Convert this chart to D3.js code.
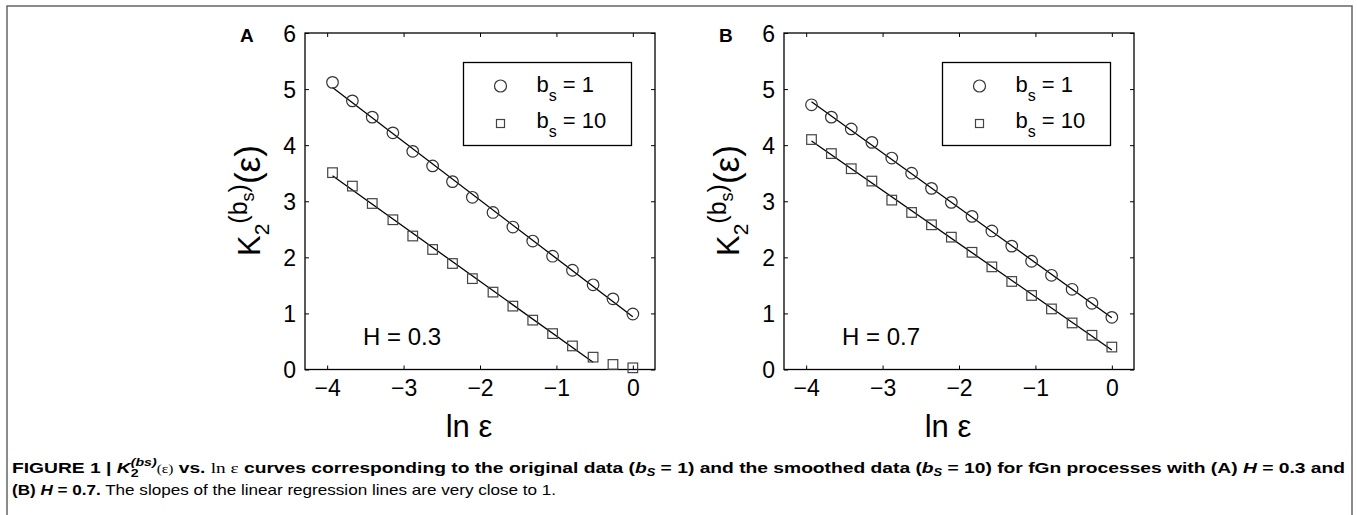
<html>
<head>
<meta charset="utf-8">
<script src="https://d3js.org/d3.v7.min.js"></script>
<style>
  body { margin: 0; background: #fff; }
  text { font-family: "Liberation Sans", Arial, Helvetica, sans-serif; fill: #000; }
</style>
</head>
<body>
<svg id="fig"></svg>
<script>
var Width = 1357, Height = 515;

// ln(eps) positions shared by every series
var lnEps = [-3.93, -3.67, -3.41, -3.14, -2.88, -2.62, -2.36, -2.10, -1.83, -1.57, -1.31, -1.05, -0.79, -0.52, -0.26, 0.0];
// K2 values, panel A (H = 0.3)
var kA_bs1  = [5.12, 4.79, 4.50, 4.22, 3.89, 3.63, 3.35, 3.07, 2.80, 2.54, 2.29, 2.02, 1.77, 1.51, 1.26, 0.99];
var kA_bs10 = [3.51, 3.27, 2.96, 2.67, 2.38, 2.14, 1.89, 1.62, 1.38, 1.13, 0.88, 0.64, 0.42, 0.22, 0.09, 0.03];
// K2 values, panel B (H = 0.7)
var kB_bs1  = [4.72, 4.50, 4.29, 4.05, 3.77, 3.50, 3.23, 2.98, 2.73, 2.47, 2.20, 1.93, 1.68, 1.43, 1.18, 0.93];
var kB_bs10 = [4.10, 3.85, 3.58, 3.36, 3.02, 2.80, 2.58, 2.36, 2.09, 1.83, 1.57, 1.32, 1.08, 0.83, 0.61, 0.40];

var xTicks = [-4, -3, -2, -1, 0];
var yTicks = [0, 1, 2, 3, 4, 5, 6];
var legendValues = ["1", "10"];
var hLabels = ["H = 0.3", "H = 0.7"];
var panelIds = ["A", "B"];
// how many points (from the left) go into each regression line
var fitCountA = [16, 14];
var fitCountB = [16, 16];

var Top = 33, PlotW = 350, PlotH = 336.5;
var panels = [
    { id: panelIds[0], left: 305, h: hLabels[0], series: [kA_bs1, kA_bs10], fit: fitCountA },
    { id: panelIds[1], left: 784, h: hLabels[1], series: [kB_bs1, kB_bs10], fit: fitCountB }
];

var svg = d3.select("#fig").attr("width", Width).attr("height", Height);

// outer figure frame (bottom edge is cut off)
svg.append("path")
    .attr("d", "M7," + Height + "V6H1352V" + Height)
    .attr("fill", "none").attr("stroke", "#666").attr("stroke-width", 1.5);

function linfit(xs, ys) {
    var n = xs.length;
    var mx = d3.mean(xs), my = d3.mean(ys);
    var sxy = 0, sxx = 0;
    for (var i = 0; i < n; i++) {
        sxy += (xs[i] - mx) * (ys[i] - my);
        sxx += (xs[i] - mx) * (xs[i] - mx);
    }
    var slope = sxy / sxx;
    return { slope: slope, icpt: my - slope * mx };
}

// lays out text runs one after another inside g
function runs(g, items) {
    var x = 0;
    items.forEach(function(it) {
        var t = g.append("text").attr("x", x).attr("y", it.dy || 0)
            .style("font-size", it.size + "px").text(it.t);
        x += t.node().getComputedTextLength();
    });
    return x;
}

var fmt = d3.format("d");

panels.forEach(function(p) {
    var x = d3.scaleLinear().domain([-4.29, 0.29]).range([p.left, p.left + PlotW]);
    var y = d3.scaleLinear().domain([0, 6]).range([Top + PlotH, Top]);

    var g = svg.append("g");

    // ticks on all four sides, pointing inwards
    var bottom = g.append("g").attr("transform", "translate(0," + (Top + PlotH) + ")")
        .call(d3.axisBottom(x).tickValues(xTicks).tickFormat(fmt).tickSizeInner(-4).tickSizeOuter(0).tickPadding(9));
    var left = g.append("g").attr("transform", "translate(" + p.left + ",0)")
        .call(d3.axisLeft(y).tickValues(yTicks).tickFormat(fmt).tickSizeInner(-4).tickSizeOuter(0).tickPadding(9));
    g.append("g").attr("transform", "translate(0," + Top + ")")
        .call(d3.axisTop(x).tickValues(xTicks).tickSizeInner(-4).tickSizeOuter(0).tickFormat(""));
    g.append("g").attr("transform", "translate(" + (p.left + PlotW) + ",0)")
        .call(d3.axisRight(y).tickValues(yTicks).tickSizeInner(-4).tickSizeOuter(0).tickFormat(""));
    g.selectAll(".domain").remove();
    g.selectAll(".tick line").attr("stroke", "#000").attr("stroke-width", 1);
    g.selectAll(".tick text").attr("font-family", null).style("font-size", "23px").attr("fill", "#000");
    bottom.selectAll(".tick text").attr("dy", "0.75em");
    left.selectAll(".tick text").attr("dy", "0.36em");

    g.append("rect").attr("x", p.left).attr("y", Top).attr("width", PlotW).attr("height", PlotH)
        .attr("fill", "none").attr("stroke", "#000").attr("stroke-width", 1.3);

    // regression lines
    p.series.forEach(function(ys, si) {
        var n = p.fit[si];
        var f = linfit(lnEps.slice(0, n), ys.slice(0, n));
        var x0 = lnEps[0], x1 = lnEps[n - 1];
        g.append("line")
            .attr("x1", x(x0)).attr("y1", y(f.icpt + f.slope * x0))
            .attr("x2", x(x1)).attr("y2", y(f.icpt + f.slope * x1))
            .attr("stroke", "#000").attr("stroke-width", 1.3);
    });

    // markers
    g.selectAll(".c").data(p.series[0]).enter().append("circle")
        .attr("cx", function(d, i) { return x(lnEps[i]); })
        .attr("cy", function(d) { return y(d); })
        .attr("r", 5.8).attr("fill", "none").attr("stroke", "#333").attr("stroke-width", 1.2);
    g.selectAll(".s").data(p.series[1]).enter().append("rect")
        .attr("x", function(d, i) { return x(lnEps[i]) - 4.8; })
        .attr("y", function(d) { return y(d) - 4.8; })
        .attr("width", 9.6).attr("height", 9.6)
        .attr("fill", "none").attr("stroke", "#444").attr("stroke-width", 1.2);

    // legend
    var lg = g.append("g").attr("transform", "translate(" + (p.left + 158.5) + "," + (Top + 29.5) + ")");
    lg.append("rect").attr("width", 168).attr("height", 83)
        .attr("fill", "#fff").attr("stroke", "#000").attr("stroke-width", 1.3);
    lg.append("circle").attr("cx", 37).attr("cy", 23.5).attr("r", 6)
        .attr("fill", "none").attr("stroke", "#333").attr("stroke-width", 1.2);
    lg.append("rect").attr("x", 33).attr("y", 57).attr("width", 8).attr("height", 8)
        .attr("fill", "none").attr("stroke", "#444").attr("stroke-width", 1.2);
    legendValues.forEach(function(v, i) {
        var t = lg.append("text").attr("x", 73).attr("y", 29 + i * 36).style("font-size", "22px");
        t.append("tspan").text("b");
        t.append("tspan").attr("dy", 9).style("font-size", "16px").text("s");
        t.append("tspan").attr("dy", -9).text(" = " + v);
    });

    // H annotation
    g.append("text").attr("x", x(-3.53)).attr("y", y(0.43)).style("font-size", "24px").text(p.h);

    // panel letter
    g.append("text").attr("x", p.left - 65).attr("y", 42)
        .style("font-size", "19px").style("font-weight", "bold").text(p.id);

    // x label
    g.append("text").attr("x", p.left + PlotW / 2 - 11).attr("y", 437)
        .attr("text-anchor", "middle").style("font-size", "31px").text("ln \u03b5");

    // y label, rotated, runs placed one after the other (reads bottom to top)
    var yl = svg.append("g").attr("transform", "translate(" + (p.left - 45) + ",256) rotate(-90)");
    runs(yl, [
        { t: "K", size: 31 },
        { t: "2", size: 21, dy: 9 },
        { t: "(", size: 25, dy: -13 },
        { t: "b", size: 25, dy: -13 },
        { t: "s", size: 18, dy: -6 },
        { t: ")", size: 25, dy: -13 },
        { t: "(\u03b5)", size: 35 }
    ]);
});

// caption
var cap1 = svg.append("text").attr("x", 12).attr("y", 473)
    .style("font-size", "15px").style("font-weight", "bold")
    .attr("textLength", 1333).attr("lengthAdjust", "spacingAndGlyphs");
cap1.append("tspan").text("FIGURE 1 | ");
cap1.append("tspan").style("font-style", "italic").text("K");
cap1.append("tspan").attr("dy", 4).style("font-size", "11px").text("2");
cap1.append("tspan").attr("dx", -6).attr("dy", -11).style("font-size", "11px").style("font-style", "italic").text("(bs)");
cap1.append("tspan").attr("dy", 7).style("font-weight", "normal").style("font-size", "12px")
    .style("font-family", "'Liberation Serif', serif").text("(\u03b5)");
cap1.append("tspan").text(" vs. ");
cap1.append("tspan").style("font-weight", "normal").style("font-family", "'Liberation Serif', serif").text("ln \u03b5");
cap1.append("tspan").text(" curves corresponding to the original data (");
cap1.append("tspan").style("font-style", "italic").text("b");
cap1.append("tspan").attr("dy", 3).style("font-size", "10px").style("font-style", "italic").text("S");
cap1.append("tspan").attr("dy", -3).text(" = 1) and the smoothed data (");
cap1.append("tspan").style("font-style", "italic").text("b");
cap1.append("tspan").attr("dy", 3).style("font-size", "10px").style("font-style", "italic").text("S");
cap1.append("tspan").attr("dy", -3).text(" = 10) for fGn processes with (A) ");
cap1.append("tspan").style("font-style", "italic").text("H");
cap1.append("tspan").text(" = 0.3 and");

var cap2 = svg.append("text").attr("x", 12).attr("y", 495)
    .style("font-size", "15px")
    .attr("textLength", 544).attr("lengthAdjust", "spacingAndGlyphs");
cap2.append("tspan").style("font-weight", "bold").text("(B) ");
cap2.append("tspan").style("font-weight", "bold").style("font-style", "italic").text("H");
cap2.append("tspan").style("font-weight", "bold").text(" = 0.7.");
cap2.append("tspan").text(" The slopes of the linear regression lines are very close to 1.");
</script>
</body>
</html>
